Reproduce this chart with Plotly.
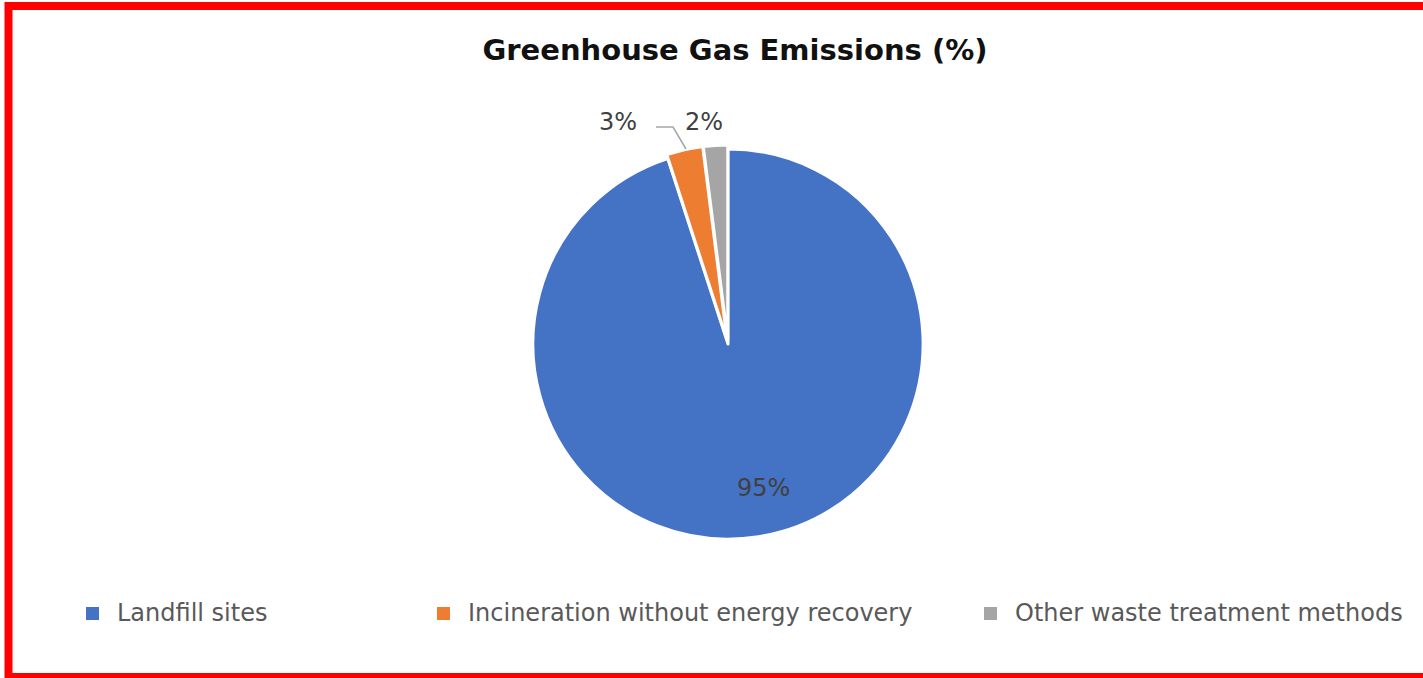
import plotly.graph_objects as go

# Share of greenhouse gas emissions by waste treatment route
categories = ["Landfill sites", "Incineration without energy recovery", "Other waste treatment methods"]
shares = [95, 3, 2]
colors = ["#4472C4", "#ED7D31", "#A5A5A5"]

W, H = 1423, 678


def px(x):
    return x / W


def py(y):
    return 1 - y / H


fig = go.Figure()
fig.add_trace(go.Pie(
    labels=categories,
    values=shares,
    sort=False,
    direction="clockwise",
    rotation=0,
    marker=dict(colors=colors, line=dict(color="white", width=3)),
    pull=[0, 0.02, 0.02],
    textinfo="none",
    hoverinfo="label+percent",
    showlegend=False,
    domain=dict(x=[px(728 - 285), px(728 + 285)], y=[py(344 + 199), py(344 - 199)]),
))

annotations = []
# slice value labels
label_pos = [(763, 488), (618, 122), (704, 122)]
for v, (lx, ly) in zip(shares, label_pos):
    annotations.append(dict(
        x=px(lx), y=py(ly), xref="paper", yref="paper", text=f"{v}%",
        showarrow=False, xanchor="center", yanchor="middle",
        font=dict(family="DejaVu Sans", size=24, color="#404040"),
    ))

# legend entries drawn along the bottom
legend_text_x = [115, 466, 1013]
legend_y = 613
shapes = []
for name, col, tx in zip(categories, colors, legend_text_x):
    annotations.append(dict(
        x=px(tx), y=py(legend_y), xref="paper", yref="paper", text=name,
        showarrow=False, xanchor="left", yanchor="middle",
        font=dict(family="DejaVu Sans", size=24, color="#595959"),
    ))
    shapes.append(dict(
        type="rect", xref="paper", yref="paper",
        x0=px(tx - 29), x1=px(tx - 16), y0=py(legend_y + 7), y1=py(legend_y - 6),
        fillcolor=col, line=dict(width=0),
    ))

# leader line for the small orange slice
shapes.append(dict(
    type="path", xref="paper", yref="paper",
    path=f"M {px(656)},{py(127)} L {px(673)},{py(127)} L {px(686)},{py(149)}",
    line=dict(color="#A6A6A6", width=1.5),
))

# red frame around the chart
shapes.append(dict(
    type="rect", xref="paper", yref="paper",
    x0=px(8.5), x1=px(1432), y0=py(677), y1=py(6),
    line=dict(color="#FF0000", width=8), fillcolor="rgba(0,0,0,0)",
))

fig.update_layout(
    width=W, height=H,
    margin=dict(l=0, r=0, t=0, b=0),
    paper_bgcolor="white",
    title=dict(
        text="<b>Greenhouse Gas Emissions (%)</b>",
        x=px(735), y=py(50), xanchor="center", yanchor="middle",
        font=dict(family="DejaVu Sans", size=29, color="#111111"),
    ),
    annotations=annotations,
    shapes=shapes,
)

fig.write_html("out.html")
